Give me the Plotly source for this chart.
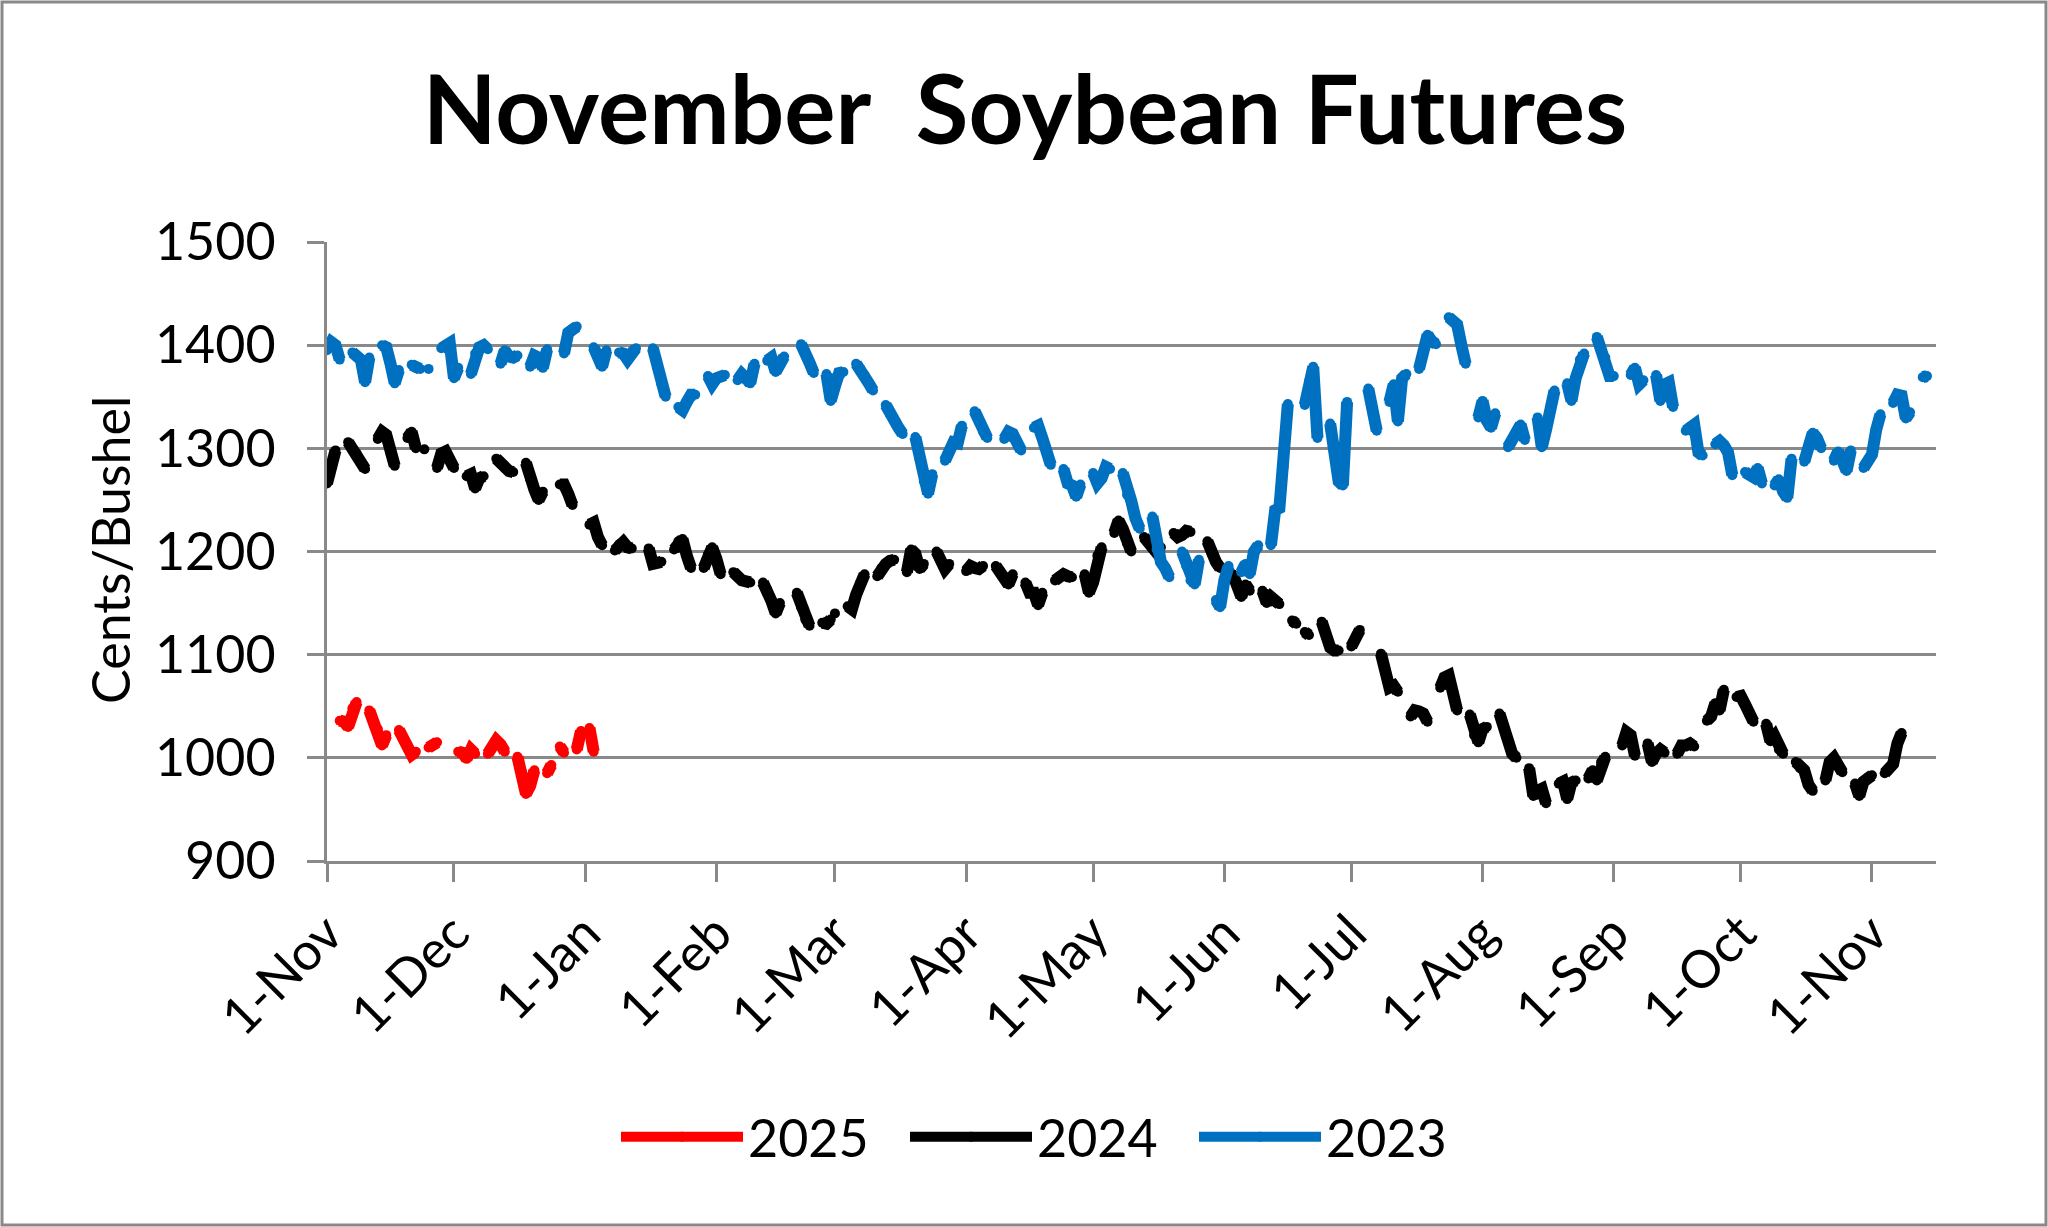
import datetime as dt
import plotly.graph_objects as go

# ---------------- text / categories ----------------
TITLE = "November\u00a0 Soybean Futures"
Y_TITLE = "Cents/Bushel"
SERIES_NAMES = ["2025", "2024", "2023"]
SERIES_COLORS = ["#FF0000", "#000000", "#0070C0"]
# years added to each series' own trading dates to put it on the shared Nov-Nov axis
YEAR_SHIFT = [0, 1, 2]

TICK_DATES = ["2024-11-01", "2024-12-01", "2025-01-01", "2025-02-01", "2025-03-01",
              "2025-04-01", "2025-05-01", "2025-06-01", "2025-07-01", "2025-08-01",
              "2025-09-01", "2025-10-01", "2025-11-01"]
TICK_TEXT = ["1-Nov", "1-Dec", "1-Jan", "1-Feb", "1-Mar", "1-Apr", "1-May",
             "1-Jun", "1-Jul", "1-Aug", "1-Sep", "1-Oct", "1-Nov"]
Y_TICKS = [900, 1000, 1100, 1200, 1300, 1400, 1500]

# ---------------- data: (first trading day of a run of consecutive days, settle values) ----------------
SOY_2025 = [
    ("2024-11-04", [1036, 1035, 1030, 1048, 1054]),
    ("2024-11-11", [1046, 1034, 1028, 1012, 1022]),
    ("2024-11-18", [1027, 1020, 1013, 1003, 1006]),
    ("2024-11-25", [1010, 1012, 1015]),
    ("2024-12-02", [1006, 1005, 999, 1008, 1004]),
    ("2024-12-09", [1004, 1011, 1017, 1013, 1006]),
    ("2024-12-16", [1001, 987, 965, 973, 988]),
    ("2024-12-23", [985, 993]),
    ("2024-12-26", [1011, 1005]),
    ("2024-12-30", [1008, 1026]),
    ("2025-01-02", [1029, 1006]),
]

SOY_2024 = [
    ("2023-11-01", [1266, 1285, 1298]),
    ("2023-11-06", [1306, 1300, 1295, 1287, 1280]),
    ("2023-11-13", [1309, 1316, 1313, 1296, 1283]),
    ("2023-11-20", [1310, 1316, 1300]),
    ("2023-11-24", [1299]),
    ("2023-11-27", [1281, 1295, 1297, 1290, 1281]),
    ("2023-12-04", [1273, 1275, 1261, 1271, 1273]),
    ("2023-12-11", [1290, 1285, 1281, 1278, 1277]),
    ("2023-12-18", [1286, 1270, 1260, 1250, 1258]),
    ("2023-12-26", [1265, 1265, 1256, 1245]),
    ("2024-01-02", [1226, 1228, 1214, 1206]),
    ("2024-01-08", [1201, 1207, 1209, 1204, 1203]),
    ("2024-01-16", [1203, 1188, 1189, 1190]),
    ("2024-01-22", [1202, 1210, 1212, 1196, 1184]),
    ("2024-01-29", [1184, 1197, 1204, 1193, 1178]),
    ("2024-02-05", [1180, 1175, 1172, 1171, 1170]),
    ("2024-02-12", [1170, 1163, 1152, 1140, 1150]),
    ("2024-02-20", [1160, 1146, 1134, 1128]),
    ("2024-02-26", [1131, 1130, 1134]),
    ("2024-03-01", [1140]),
    ("2024-03-04", [1147, 1144, 1158, 1170, 1178]),
    ("2024-03-11", [1176, 1184, 1188, 1191, 1192]),
    ("2024-03-18", [1180, 1202, 1198, 1183, 1188]),
    ("2024-03-25", [1200, 1192, 1183, 1188]),
    ("2024-04-01", [1181, 1186, 1184, 1183, 1186]),
    ("2024-04-08", [1186, 1181, 1175, 1168, 1178]),
    ("2024-04-15", [1170, 1160, 1160, 1148, 1160]),
    ("2024-04-22", [1172, 1176, 1178, 1176, 1175]),
    ("2024-04-29", [1178, 1160, 1170, 1196, 1204]),
    ("2024-05-06", [1218, 1230, 1222, 1208, 1200]),
    ("2024-05-13", [1214, 1208, 1203, 1199, 1204]),
    ("2024-05-20", [1218, 1214, 1216, 1220, 1219]),
    ("2024-05-28", [1210, 1198, 1190, 1184]),
    ("2024-06-03", [1178, 1170, 1156, 1168, 1162]),
    ("2024-06-10", [1162, 1150, 1156, 1151, 1149]),
    ("2024-06-17", [1133, 1130]),
    ("2024-06-20", [1122, 1119]),
    ("2024-06-24", [1132, 1118, 1107, 1104, 1104]),
    ("2024-07-01", [1108, 1117, 1124]),
    ("2024-07-08", [1101, 1086, 1068, 1070, 1064]),
    ("2024-07-15", [1040, 1046, 1045, 1043, 1035]),
    ("2024-07-22", [1068, 1078, 1080, 1062, 1046]),
    ("2024-07-29", [1042, 1022, 1015, 1028, 1030]),
    ("2024-08-05", [1043, 1030, 1016, 1004, 1000]),
    ("2024-08-12", [990, 963, 968, 970, 956]),
    ("2024-08-19", [975, 977, 960, 976, 978]),
    ("2024-08-26", [980, 988, 978, 996, 1001]),
    ("2024-09-03", [1012, 1025, 1022, 1002]),
    ("2024-09-09", [1014, 996, 1004, 1008, 1005]),
    ("2024-09-16", [1004, 1012, 1012, 1014, 1011]),
    ("2024-09-23", [1036, 1040, 1053, 1046, 1066]),
    ("2024-09-30", [1059, 1060, 1052, 1042, 1035]),
    ("2024-10-07", [1033, 1016, 1021, 1008, 1004]),
    ("2024-10-14", [996, 990, 988, 974, 968]),
    ("2024-10-21", [978, 996, 1000, 992, 986]),
    ("2024-10-28", [975, 963, 977, 981, 983]),
    ("2024-11-04", [985, 990, 994, 1014, 1024]),
]

SOY_2023 = [
    ("2022-11-01", [1395, 1403, 1400, 1386]),
    ("2022-11-07", [1393, 1390, 1386, 1364, 1388]),
    ("2022-11-14", [1400, 1398, 1382, 1363, 1376]),
    ("2022-11-21", [1381, 1378, 1377]),
    ("2022-11-25", [1377]),
    ("2022-11-28", [1397, 1400, 1402, 1368, 1378]),
    ("2022-12-05", [1372, 1392, 1398, 1400, 1396]),
    ("2022-12-12", [1382, 1395, 1389, 1388, 1390]),
    ("2022-12-19", [1379, 1390, 1388, 1378, 1396]),
    ("2022-12-27", [1392, 1412, 1415, 1418]),
    ("2023-01-03", [1398, 1390, 1379, 1395]),
    ("2023-01-09", [1393, 1392, 1386, 1394, 1397]),
    ("2023-01-17", [1397, 1378, 1362, 1350]),
    ("2023-01-23", [1340, 1337, 1345, 1352, 1352]),
    ("2023-01-30", [1370, 1362, 1368, 1370, 1371]),
    ("2023-02-06", [1366, 1372, 1368, 1363, 1382]),
    ("2023-02-13", [1385, 1388, 1374, 1383, 1389]),
    ("2023-02-21", [1401, 1394, 1383, 1373]),
    ("2023-02-27", [1372, 1346, 1360, 1373, 1374]),
    ("2023-03-06", [1382, 1377, 1371, 1363, 1356]),
    ("2023-03-13", [1342, 1333, 1328, 1320, 1314]),
    ("2023-03-20", [1311, 1290, 1268, 1256, 1275]),
    ("2023-03-27", [1288, 1298, 1306, 1305, 1322]),
    ("2023-04-03", [1336, 1326, 1316, 1310]),
    ("2023-04-10", [1309, 1316, 1314, 1306, 1298]),
    ("2023-04-17", [1320, 1322, 1310, 1296, 1284]),
    ("2023-04-24", [1280, 1266, 1264, 1253, 1265]),
    ("2023-05-01", [1276, 1266, 1271, 1282, 1280]),
    ("2023-05-08", [1276, 1255, 1249, 1232, 1222]),
    ("2023-05-15", [1234, 1202, 1190, 1184, 1175]),
    ("2023-05-22", [1200, 1186, 1172, 1168, 1192]),
    ("2023-05-30", [1153, 1146, 1172, 1186]),
    ("2023-06-05", [1180, 1188, 1178, 1200, 1206]),
    ("2023-06-12", [1206, 1240, 1242, 1282, 1343]),
    ("2023-06-20", [1342, 1365, 1379, 1310]),
    ("2023-06-26", [1324, 1302, 1268, 1264, 1345]),
    ("2023-07-05", [1358, 1338, 1317]),
    ("2023-07-10", [1345, 1362, 1326, 1368, 1372]),
    ("2023-07-17", [1377, 1392, 1410, 1404, 1401]),
    ("2023-07-24", [1427, 1423, 1420, 1400, 1382]),
    ("2023-07-31", [1330, 1346, 1327, 1320, 1334]),
    ("2023-08-07", [1301, 1307, 1313, 1323, 1308]),
    ("2023-08-14", [1330, 1301, 1318, 1340, 1356]),
    ("2023-08-21", [1363, 1346, 1368, 1386, 1392]),
    ("2023-08-28", [1408, 1396, 1388, 1370, 1370]),
    ("2023-09-05", [1371, 1378, 1362, 1366]),
    ("2023-09-11", [1371, 1346, 1362, 1364, 1340]),
    ("2023-09-18", [1317, 1321, 1323, 1296, 1293]),
    ("2023-09-25", [1304, 1307, 1303, 1296, 1274]),
    ("2023-10-02", [1277, 1274, 1272, 1281, 1266]),
    ("2023-10-09", [1264, 1270, 1258, 1252, 1290]),
    ("2023-10-16", [1287, 1300, 1315, 1310, 1300]),
    ("2023-10-23", [1288, 1297, 1288, 1278, 1298]),
    ("2023-10-30", [1281, 1287, 1294, 1318, 1333]),
    ("2023-11-06", [1344, 1352, 1351, 1329, 1335]),
    ("2023-11-13", [1369, 1370]),
]

SERIES_DATA = [SOY_2025, SOY_2024, SOY_2023]


def build(chunks, shift):
    xs, ys = [], []
    for start, vals in chunks:
        d0 = dt.date.fromisoformat(start)
        for i, v in enumerate(vals):
            d = d0 + dt.timedelta(days=i)
            d = d.replace(year=d.year + shift)
            xs.append(d.isoformat())
            ys.append(v)
        xs.append(None)   # blank row -> gap in the line
        ys.append(None)
    return xs, ys


FONT = "Lato, 'Open Sans', sans-serif"
GRID = "#898989"
W, H = 2048, 1227
ML, MR, MT, MB = 327, 112, 242, 366
PW, PH = W - ML - MR, H - MT - MB
FS = 52

fig = go.Figure()
for name, color, data, shift in zip(SERIES_NAMES, SERIES_COLORS, SERIES_DATA, YEAR_SHIFT):
    xs, ys = build(data, shift)
    fig.add_trace(go.Scatter(
        x=xs, y=ys, name=name, mode="lines+markers",
        line=dict(color=color, width=12),
        marker=dict(color=color, size=10),
        connectgaps=False,
    ))

fig.update_layout(
    width=W, height=H,
    margin=dict(l=ML, r=MR, t=MT, b=MB),
    paper_bgcolor="white", plot_bgcolor="white",
    font=dict(family=FONT, color="black", size=FS),
    title=dict(text=TITLE, x=1025 / W, xref="container", xanchor="center",
               y=1 - 110 / H, yref="container", yanchor="middle",
               font=dict(family=FONT, size=96, weight="bold", color="black")),
    showlegend=True,
    legend=dict(orientation="h", x=616 / W, xref="container", xanchor="left",
                y=1 - 1137 / H, yref="container", yanchor="middle",
                font=dict(size=FS), itemwidth=122, entrywidth=152,
                entrywidthmode="pixels", traceorder="normal",
                bgcolor="rgba(0,0,0,0)"),
)

fig.update_xaxes(
    type="date", range=["2024-11-01", "2025-11-16 03:00"],
    tickvals=TICK_DATES, ticktext=TICK_TEXT, tickangle=-45,
    showgrid=False, showline=True, linecolor=GRID, linewidth=3,
    ticks="outside", ticklen=18, tickwidth=3, tickcolor=GRID,
    tickfont=dict(size=FS), zeroline=False,
)
fig.update_yaxes(
    range=[900, 1500], tickvals=Y_TICKS,
    showgrid=True, gridcolor=GRID, gridwidth=3,
    showline=True, linecolor=GRID, linewidth=3,
    ticks="outside", ticklen=17, tickwidth=3, tickcolor=GRID,
    tickfont=dict(size=FS), zeroline=False, ticklabelstandoff=21,
)

fig.add_annotation(text=Y_TITLE, textangle=-90, xref="paper", yref="paper",
                   x=(110 - ML) / PW, y=(H - MB - 550) / PH,
                   xanchor="center", yanchor="middle", showarrow=False,
                   font=dict(size=FS, family=FONT))

# chart-area border
fig.add_shape(type="rect", xref="paper", yref="paper",
              x0=(2 - ML) / PW, x1=(W - 2 - ML) / PW,
              y0=(H - MB - (H - 2)) / PH, y1=(H - MB - 2) / PH,
              line=dict(color=GRID, width=3), fillcolor="rgba(0,0,0,0)", layer="below")

fig.write_html("out.html")
